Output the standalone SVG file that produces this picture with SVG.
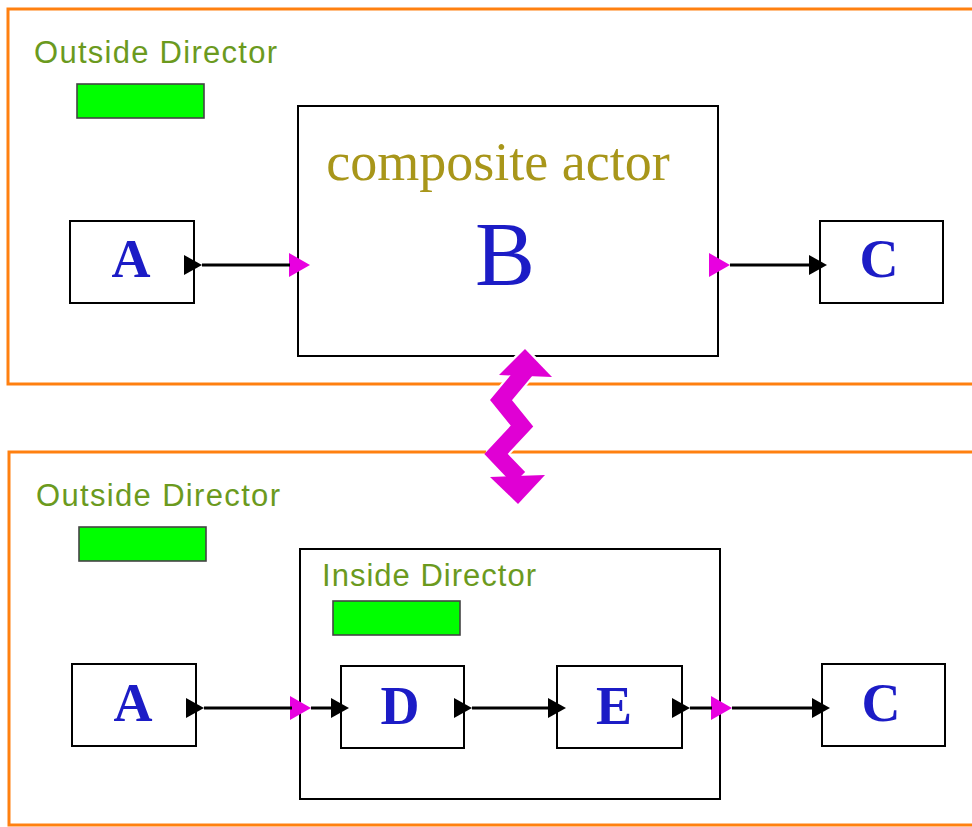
<svg xmlns="http://www.w3.org/2000/svg" width="972" height="827" viewBox="0 0 972 827">
<style>
.frame{fill:none;stroke:#ff8010;stroke-width:3}
.box{fill:#fff;stroke:#000;stroke-width:2}
.dir{fill:#00ff00;stroke:#444;stroke-width:1.6}
.lbl{font-family:"Liberation Sans",Arial,sans-serif;font-size:31px;fill:#6b9a1e}
.big{font-family:"Liberation Serif","Times New Roman",serif;font-weight:bold;font-size:54px;fill:#1c1cc6;text-anchor:middle}
.wire{stroke:#000;stroke-width:3;fill:none}
.bp{fill:#000}
.mp{fill:#e800e0}
</style>
<defs>
<polygon id="bport" points="-10,-10 8,0 -10,10"/>
<polygon id="mport" points="-9,-12 12,0 -9,12"/>
</defs>
<rect class="frame" x="8" y="9" width="975" height="375"/>
<rect class="frame" x="9" y="452" width="975" height="373"/>

<g id="top-director">
<text class="lbl" x="34" y="63" font-size="32" textLength="243" lengthAdjust="spacing">Outside Director</text>
<rect class="dir" x="77" y="84" width="127" height="34"/>
</g>
<g id="top-A">
<rect class="box" x="70" y="221" width="124" height="82"/>
<text class="big" x="131" y="277">A</text>
<use href="#bport" class="bp" x="194" y="265"/>
</g>
<g id="B">
<rect class="box" x="298" y="106" width="420" height="250"/>
<text x="498" y="180" font-family="Liberation Serif,'Times New Roman',serif" font-size="54" fill="#a8961a" text-anchor="middle">composite actor</text>
<text x="505" y="285" font-family="Liberation Serif,'Times New Roman',serif" font-size="90" fill="#1c1cc6" text-anchor="middle">B</text>
<use href="#mport" class="mp" x="298" y="265"/>
<use href="#mport" class="mp" x="718" y="265"/>
</g>
<g id="top-C">
<rect class="box" x="820" y="221" width="123" height="82"/>
<text class="big" x="879" y="277">C</text>
<use href="#bport" class="bp" x="819" y="265"/>
</g>

<g id="bottom-director">
<text class="lbl" x="36" y="506" font-size="32" textLength="244" lengthAdjust="spacing">Outside Director</text>
<rect class="dir" x="79" y="527" width="127" height="34"/>
</g>
<g id="composite">
<rect class="box" x="300" y="549" width="420" height="250"/>
<text class="lbl" x="322" y="586" textLength="214" lengthAdjust="spacing">Inside Director</text>
<rect class="dir" x="333" y="601" width="127" height="34"/>
<use href="#mport" class="mp" x="299" y="708"/>
<use href="#mport" class="mp" x="720" y="708"/>
</g>
<g id="bottom-A">
<rect class="box" x="72" y="664" width="124" height="82"/>
<text class="big" x="133" y="721">A</text>
<use href="#bport" class="bp" x="196" y="708"/>
</g>
<g id="D">
<rect class="box" x="341" y="666" width="123" height="82"/>
<text class="big" x="400" y="724">D</text>
<use href="#bport" class="bp" x="341" y="708"/>
<use href="#bport" class="bp" x="464" y="708"/>
</g>
<g id="E">
<rect class="box" x="557" y="666" width="125" height="82"/>
<text class="big" x="614" y="724">E</text>
<use href="#bport" class="bp" x="558" y="708"/>
<use href="#bport" class="bp" x="682" y="708"/>
</g>
<g id="bottom-C">
<rect class="box" x="822" y="664" width="123" height="82"/>
<text class="big" x="881" y="721">C</text>
<use href="#bport" class="bp" x="822" y="708"/>
</g>

<g id="connectors">
<line class="wire" x1="202" y1="265" x2="290" y2="265"/>
<line class="wire" x1="730" y1="265" x2="810" y2="265"/>
<line class="wire" x1="204" y1="708" x2="292" y2="708"/>
<line class="wire" x1="311" y1="708" x2="332" y2="708"/>
<line class="wire" x1="472" y1="708" x2="549" y2="708"/>
<line class="wire" x1="690" y1="708" x2="712" y2="708"/>
<line class="wire" x1="732" y1="708" x2="813" y2="708"/>
<g id="refinement-arrow">
<g fill="#fff" stroke="#fff" stroke-width="5" stroke-linejoin="round">
<polyline points="526,370 501,400 522,426 496,454 519,478" fill="none" stroke-width="21"/>
<polygon points="525,349 499,375 552,377"/>
<polygon points="518,504 490,477 545,475"/>
</g>
<g fill="#e000d4">
<polyline points="526,370 501,400 522,426 496,454 519,478" fill="none" stroke="#e000d4" stroke-width="17" stroke-linejoin="miter"/>
<polygon points="525,349 499,375 552,377"/>
<polygon points="518,504 490,477 545,475"/>
</g>
</g>
</g>
</svg>
